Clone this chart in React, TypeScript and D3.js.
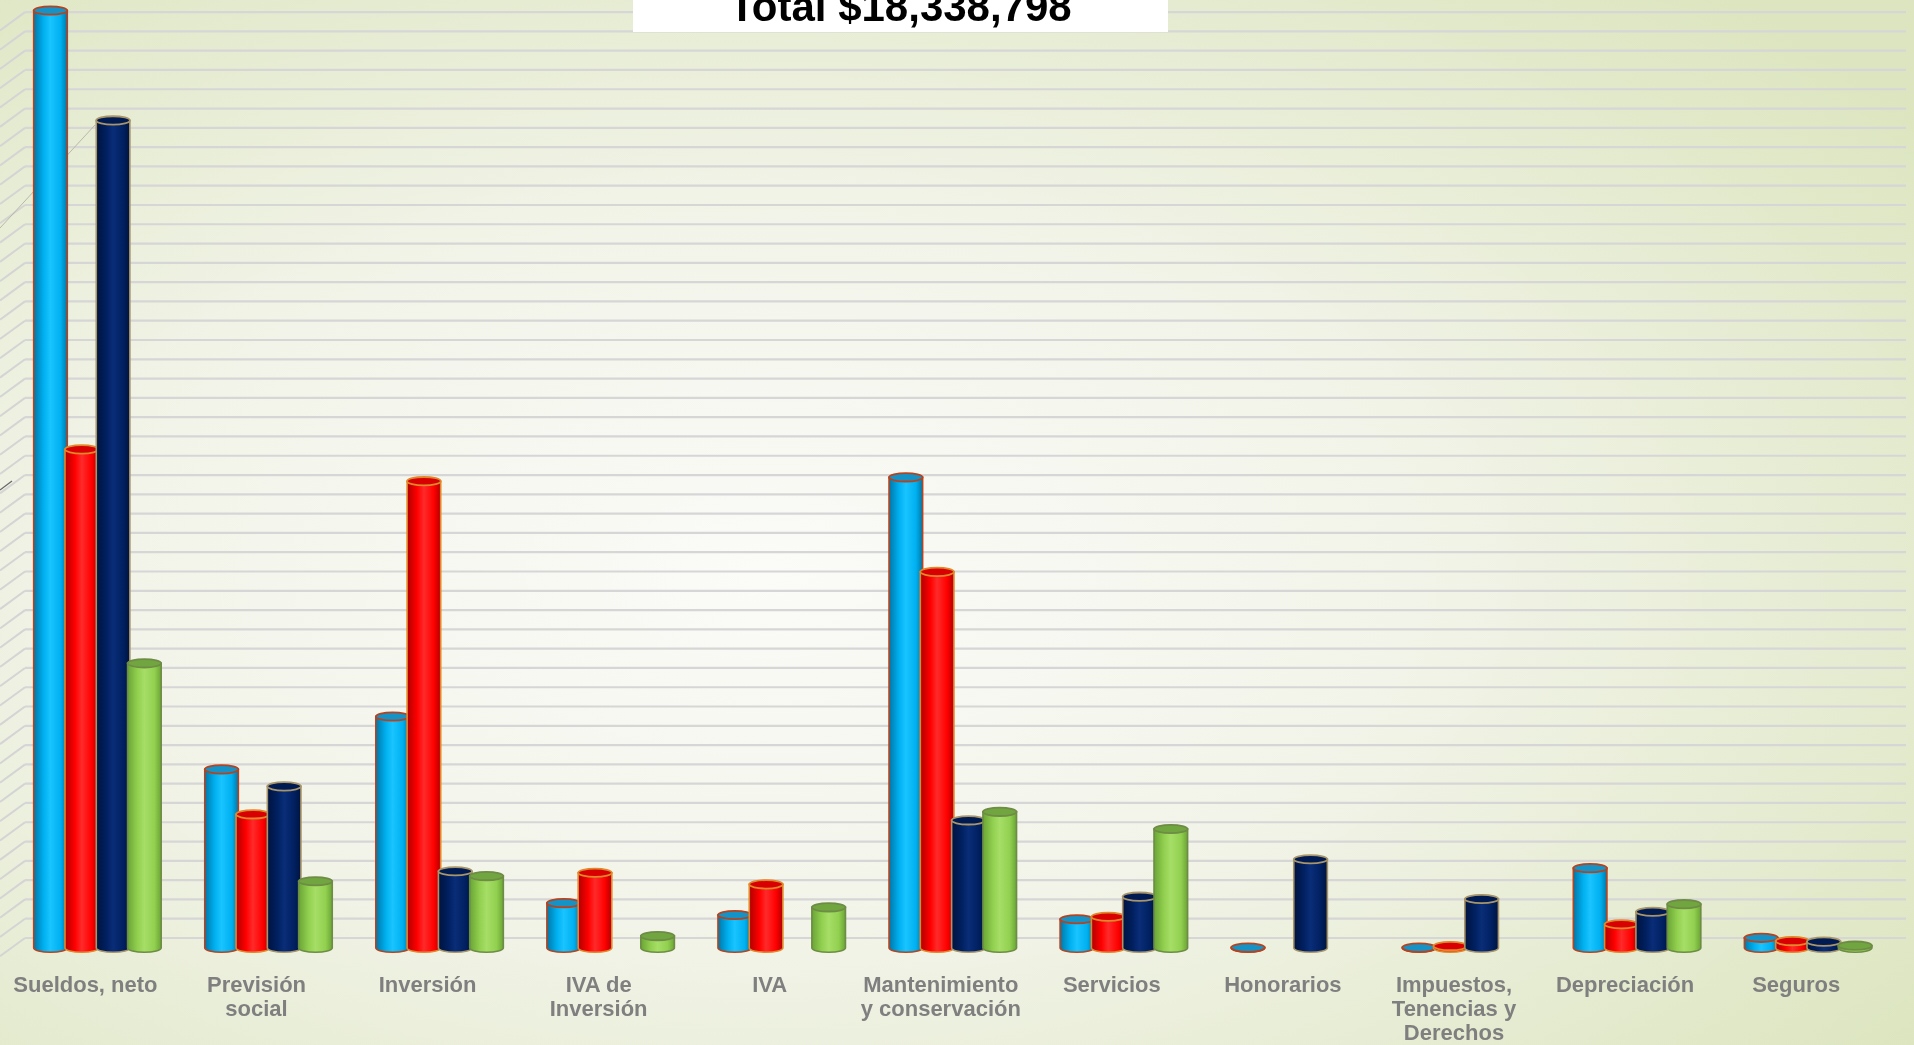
import React from "react";
import * as d3 from "d3";

const categories: string[][] = [
  ["Sueldos, neto"],
  ["Previsión", "social"],
  ["Inversión"],
  ["IVA de", "Inversión"],
  ["IVA"],
  ["Mantenimiento", "y conservación"],
  ["Servicios"],
  ["Honorarios"],
  ["Impuestos,", "Tenencias y", "Derechos"],
  ["Depreciación"],
  ["Seguros"],
];

const serie1: (number | null)[] = [2916000, 555600, 720000, 139800, 102600, 1464000, 89400, 1200, 1200, 248400, 31800];
const serie2: (number | null)[] = [1551000, 415800, 1452000, 234000, 198000, 1170000, 97200, null, 6000, 73800, 21600];
const serie3: (number | null)[] = [2574000, 502800, 238800, null, null, 397200, 159600, 276000, 152400, 112800, 19800];
const serie4: (number | null)[] = [885600, 207600, 223800, 37200, 126600, 423600, 370200, null, null, 136200, 7200];

const title = "Total $18,338,798";
const gridStep = 60000;
const gridCount = 48;

const W = 1914;
const H = 1045;

const styles = [
  { id: "b", dark: "#0077a8", light: "#19c4ff", mid: "#00b0f0", top: "#1592c6", stroke: "#b5431f" },
  { id: "r", dark: "#b00000", light: "#ff2a2a", mid: "#ff0000", top: "#d80000", stroke: "#e0892a" },
  { id: "n", dark: "#00143f", light: "#0a2d78", mid: "#002060", top: "#001a52", stroke: "#a8956a" },
  { id: "g", dark: "#6aa535", light: "#a6de66", mid: "#92d050", top: "#71a540", stroke: "#6e8c45" },
];

export default function App() {
  const series = [serie1, serie2, serie3, serie4];
  const y0 = 948;
  const stepPx = 19.29;
  const depth = 10;
  const y = d3.scaleLinear().domain([0, gridStep * gridCount]).range([y0, y0 - stepPx * gridCount]);
  const x = d3.scaleLinear().domain([1, 8]).range([268.5, 1466]);
  const inner = d3.scaleBand<number>().domain([0, 1, 2, 3]).range([-62.6, 62.6]);
  const rx = 16.8;
  const ry = 4.2;
  const ticks = d3.range(0, gridCount + 1).map((k) => k * gridStep);

  return (
    <svg width={W} height={H} style={{ position: "fixed", left: 0, top: 0 }} fontFamily="'Liberation Sans', Arial, sans-serif">
      <defs>
        <radialGradient id="bg" cx="40%" cy="55%" r="75%">
          <stop offset="0%" stopColor="#fbfbf8" />
          <stop offset="45%" stopColor="#f2f4e9" />
          <stop offset="100%" stopColor="#dce5bf" />
        </radialGradient>
        {styles.map((s) => (
          <linearGradient key={s.id} id={"cyl" + s.id} x1="0" x2="1" y1="0" y2="0">
            <stop offset="0%" stopColor={s.dark} />
            <stop offset="30%" stopColor={s.mid} />
            <stop offset="50%" stopColor={s.light} />
            <stop offset="80%" stopColor={s.mid} />
            <stop offset="100%" stopColor={s.dark} />
          </linearGradient>
        ))}
      </defs>
      <rect x={0} y={0} width={W} height={H} fill="url(#bg)" />
      {/* left wall */}
      {ticks.map((t) => (
        <line key={"w" + t} x1={25} y1={y(t) - depth} x2={0} y2={y(t) - depth + 18.3} stroke="#d4d4d4" strokeWidth={2} />
      ))}
      {ticks.map((t) => (
        <line key={"g" + t} x1={25} y1={y(t) - depth} x2={1906} y2={y(t) - depth} stroke="#d6d6d6" strokeWidth={2.2} />
      ))}
      <line x1={0} y1={228} x2={95} y2={125} stroke="#b8b8a8" strokeWidth={1} />
      <line x1={0} y1={490} x2={12} y2={481} stroke="#666" strokeWidth={1.2} />
      {categories.map((c, i) => {
        const cx0 = x(i);
        return (
          <g key={"c" + i}>
            {series.map((s, j) => {
              const v = s[i];
              if (v === null || v === undefined) return null;
              const st = styles[j];
              const cx = cx0 + (inner(j) as number) + inner.bandwidth() / 2;
              const top = y(v);
              const body = `M${cx - rx},${top} L${cx - rx},${y0} A${rx},${ry} 0 0 0 ${cx + rx},${y0} L${cx + rx},${top} Z`;
              return (
                <g key={j}>
                  <path d={body} fill={`url(#cyl${st.id})`} stroke={st.stroke} strokeWidth={1.6} />
                  <ellipse cx={cx} cy={top} rx={rx} ry={ry} fill={st.top} stroke={st.stroke} strokeWidth={1.8} />
                </g>
              );
            })}
            <text textAnchor="middle" fill="#7f7f7f" fontWeight="bold" fontSize={22}>
              {c.map((line, k) => (
                <tspan key={k} x={cx0 - 12} y={991.5 + k * 24.2}>{line}</tspan>
              ))}
            </text>
          </g>
        );
      })}
      <rect x={633} y={0} width={535} height={32} fill="#ffffff" />
      <text x={900.5} y={21} textAnchor="middle" fontWeight="bold" fontSize={42} fill="#000">{title}</text>
    </svg>
  );
}
